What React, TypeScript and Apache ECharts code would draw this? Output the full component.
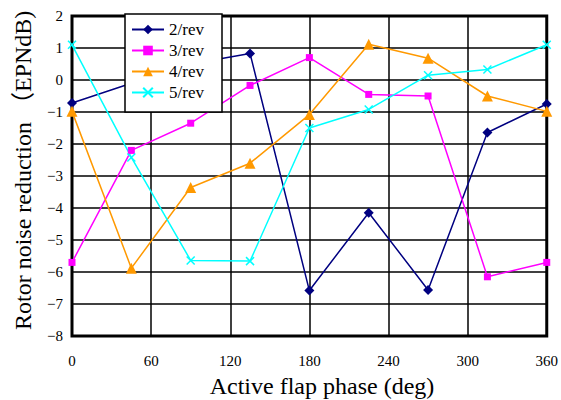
import React, { useEffect, useRef } from "react";
import * as echarts from "echarts";

const phases = [0, 45, 90, 135, 180, 225, 270, 315, 360];
const rev2 = [-0.72, -0.1, 0.5, 0.83, -6.58, -4.15, -6.56, -1.64, -0.75];
const rev3 = [-5.7, -2.2, -1.35, -0.17, 0.7, -0.45, -0.5, -6.15, -5.7];
const rev4 = [-0.98, -5.88, -3.36, -2.6, -1.08, 1.12, 0.68, -0.5, -0.98];
const rev5 = [1.1, -2.42, -5.64, -5.66, -1.5, -0.92, 0.15, 0.33, 1.1];
const seriesNames = ["2/rev", "3/rev", "4/rev", "5/rev"];
const xTitle = "Active flap phase (deg)";
const yTitle = "Rotor noise reduction （EPNdB)";

const SERIF = "Liberation Serif";
const SERIF_CJK = "Liberation Serif, Noto Sans CJK JP, serif";
const CROSS = "path://M0,0L10,10M10,0L0,10";

export default function App() {
  const ref = useRef<HTMLDivElement>(null);
  useEffect(() => {
    if (!ref.current) return;
    const chart = echarts.init(ref.current, undefined, { renderer: "svg" });
    const pairs = (vals: number[]) => phases.map((p, i) => [p, vals[i]]);
    const colors = ["#000080", "#FF00FF", "#FF9900", "#00FFFF"];
    const symbols = ["diamond", "rect", "triangle", CROSS];
    const sizes = [10, 7, 11, 8];
    const data = [rev2, rev3, rev4, rev5];
    chart.setOption({
      animation: false,
      backgroundColor: "#ffffff",
      textStyle: { fontFamily: SERIF },
      grid: {
        left: 72,
        right: 14,
        top: 16,
        bottom: 64,
        show: true,
        borderColor: "#000",
        borderWidth: 3,
        backgroundColor: "transparent",
      },
      xAxis: {
        type: "value",
        min: 0,
        max: 360,
        interval: 60,
        axisLine: { show: false },
        axisTick: { show: false },
        splitLine: { show: true, lineStyle: { color: "#000", width: 1.5 } },
        axisLabel: { color: "#000", fontFamily: SERIF, fontSize: 15, margin: 17 },
      },
      yAxis: {
        type: "value",
        min: -8,
        max: 2,
        interval: 1,
        axisLine: { show: false },
        axisTick: { show: false },
        splitLine: { show: true, lineStyle: { color: "#000", width: 1.5 } },
        axisLabel: {
          color: "#000",
          fontFamily: SERIF,
          fontSize: 15,
          margin: 9,
          formatter: (v: number) => String(v).replace("-", "\u2212"),
        },
      },
      legend: {
        left: 131,
        top: 21,
        orient: "vertical",
        itemWidth: 32,
        itemHeight: 12,
        itemGap: 4,
        padding: 0,
        z: 20,
        textStyle: { color: "#000", fontFamily: SERIF, fontSize: 17 },
        data: seriesNames,
      },
      graphic: [
        {
          type: "rect",
          z: 15,
          shape: { x: 125, y: 14, width: 97, height: 98 },
          style: { fill: "#fff", stroke: "#000", lineWidth: 1.5 },
        },
        {
          type: "text",
          x: 322,
          y: 386,
          style: {
            text: xTitle,
            fill: "#000",
            fontFamily: SERIF,
            fontSize: 24,
            textAlign: "center",
            textVerticalAlign: "middle",
          },
        },
        {
          type: "text",
          x: 23,
          y: 330,
          rotation: Math.PI / 2,
          style: {
            text: yTitle,
            fill: "#000",
            fontFamily: SERIF_CJK,
            fontSize: 24,
            textAlign: "left",
            textVerticalAlign: "middle",
          },
        },
      ],
      series: data.map((d, i) => ({
        name: seriesNames[i],
        type: "line",
        data: pairs(d),
        symbol: symbols[i],
        symbolSize: sizes[i],
        showAllSymbol: true,
        lineStyle: { color: colors[i], width: 1.5 },
        itemStyle: {
          color: colors[i],
          borderColor: colors[i],
          borderWidth: i === 3 ? 1.5 : 0,
        },
        z: 5,
      })),
    });
    return () => chart.dispose();
  }, []);
  return (
    <div
      ref={ref}
      style={{ position: "fixed", left: 0, top: 0, width: 561, height: 400 }}
    />
  );
}
